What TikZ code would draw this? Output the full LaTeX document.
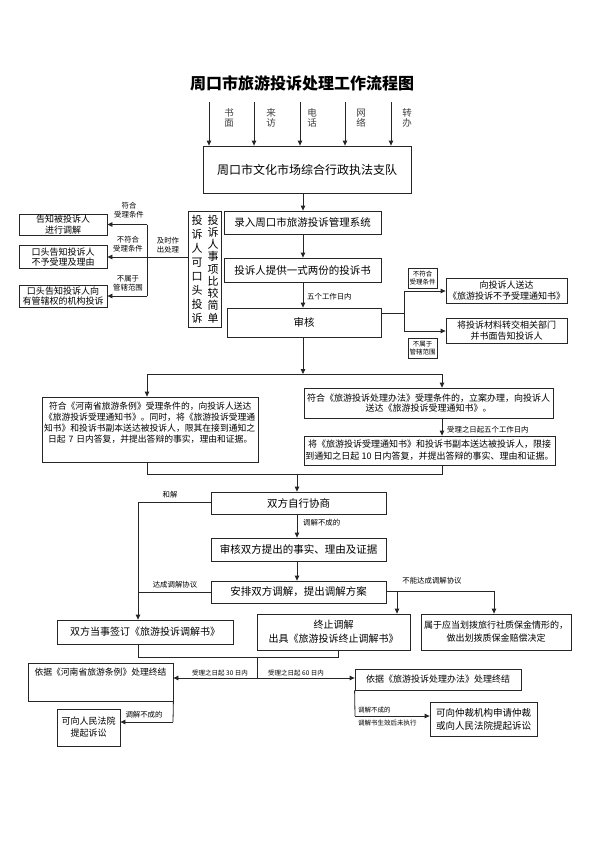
\documentclass[tikz,border=0pt]{standalone}
\usepackage{fontspec}
\setmainfont{Noto Sans CJK SC}
\usetikzlibrary{arrows.meta}
\tikzset{
  bx/.style={draw=black!85, line width=0.8pt, inner sep=0pt, align=center},
  ln/.style={draw=black!85, line width=0.8pt},
  arr/.style={ln, -{Triangle[length=5pt,width=4.5pt]}},
  lbl/.style={inner sep=0pt, font=\fontsize{7.4}{9}\selectfont, align=center},
  inlbl/.style={inner sep=0pt, font=\fontsize{9.5}{10.5}\selectfont, align=center, text=black!75},
  tx/.style={inner sep=0pt, align=left},
}
\begin{document}
\begin{tikzpicture}[x=1pt,y=-1pt]
\useasboundingbox[fill=white] (0,0) rectangle (600,848);

% title
\node[font=\fontsize{16}{18}\selectfont\bfseries] (title) at (302,83) {周口市旅游投诉处理工作流程图};

% top box
\node[bx, minimum width=208pt, minimum height=47pt, font=\fontsize{12}{14}\selectfont] (zd) at (307,169.5) {周口市文化市场综合行政执法支队};

% input arrows
\coordinate (s1) at (209,102);
\coordinate (s2) at (254,102);
\coordinate (s3) at (300,102);
\coordinate (s4) at (345,102);
\coordinate (s5) at (391,102);
\draw[arr] (s1) -- (s1 |- zd.north);
\draw[arr] (s2) -- (s2 |- zd.north);
\draw[arr] (s3) -- (s3 |- zd.north);
\draw[arr] (s4) -- (s4 |- zd.north);
\draw[arr] (s5) -- (s5 |- zd.north);
\node[inlbl] (t1) at (229,118) {书\\面};
\node[inlbl] (t2) at (271,118) {来\\访};
\node[inlbl] (t3) at (312,118) {电\\话};
\node[inlbl] (t4) at (361,118) {网\\络};
\node[inlbl] (t5) at (407,118) {转\\办};

% main column
\node[bx, minimum width=157pt, minimum height=23pt, font=\fontsize{10.5}{12}\selectfont] (lr) at (302.5,222.5) {录入周口市旅游投诉管理系统};
\node[bx, minimum width=157pt, minimum height=24pt, font=\fontsize{10.5}{12}\selectfont] (tg) at (302.5,270) {投诉人提供一式两份的投诉书};
\node[bx, minimum width=154pt, minimum height=29pt, font=\fontsize{10.5}{12}\selectfont] (sh) at (304,322.5) {审核};
\coordinate (mc) at (303,200);
\draw[arr] (mc |- zd.south) -- (mc |- lr.north);
\draw[arr] (mc |- lr.south) -- (mc |- tg.north);
\draw[arr] (mc |- tg.south) -- (mc |- sh.north);
\node[lbl, anchor=west] (wg) at (307,297) {五个工作日内};

% vertical box
\node[bx, minimum width=33pt, minimum height=116pt] (vb) at (204.5,269) {};
\node[inner sep=0pt, align=center, font=\fontsize{11}{12.25}\selectfont] (vbr) at (213,269) {投\\诉\\人\\事\\项\\比\\较\\简\\单};
\node[inner sep=0pt, align=center, font=\fontsize{11}{14}\selectfont] (vbl) at (197,269) {投\\诉\\人\\可\\口\\头\\投\\诉};

% left small boxes
\node[bx, minimum width=88pt, minimum height=21pt, font=\fontsize{9}{10.5}\selectfont] (la) at (63,224.5) {告知被投诉人\\进行调解};
\node[bx, minimum width=88pt, minimum height=23pt, font=\fontsize{9}{10.5}\selectfont] (lb) at (63,257) {口头告知投诉人\\不予受理及理由};
\node[bx, minimum width=88pt, minimum height=22pt, font=\fontsize{9}{10.5}\selectfont] (lc) at (63,296) {口头告知投诉人向\\有管辖权的机构投诉};
\coordinate (jx) at (147,257);
\draw[ln] (vb.west |- jx) -- (jx);
\draw[ln] (jx |- la.east) -- (jx |- lc.east);
\draw[arr] (jx |- la.east) -- (la.east);
\draw[arr] (jx) -- (lb.east);
\draw[arr] (jx |- lc.east) -- (lc.east);
\node[lbl] (q1) at (129,210.5) {符合\\受理条件};
\node[lbl] (q2) at (128,244.5) {不符合\\受理条件};
\node[lbl] (q3) at (128,283) {不属于\\管辖范围};
\node[lbl] (q4) at (168,245) {及时作\\出处理};

% right small boxes
\node[bx, minimum width=121pt, minimum height=25pt, font=\fontsize{9}{11}\selectfont] (rd) at (506.5,291) {向投诉人送达\\《旅游投诉不予受理通知书》};
\node[bx, minimum width=121pt, minimum height=25pt, font=\fontsize{9}{11}\selectfont] (re) at (506.5,331) {将投诉材料转交相关部门\\并书面告知投诉人};
\coordinate (jr) at (404,313);
\draw[ln] (sh.east |- jr) -- (jr);
\draw[ln] (jr |- rd.west) -- (jr |- re.west);
\draw[arr] (jr |- rd.west) -- (rd.west);
\draw[arr] (jr |- re.west) -- (re.west);
\node[bx, minimum width=29pt, minimum height=20pt, font=\fontsize{6.5}{8}\selectfont] (rq1) at (422.5,278) {不符合\\受理条件};
\node[bx, minimum width=29pt, minimum height=20pt, font=\fontsize{6.5}{8}\selectfont] (rq2) at (422.5,348) {不属于\\管辖范围};

% split
\coordinate (h1) at (303,374);
\coordinate (hl) at (147,374);
\coordinate (hr) at (442,374);
\draw[arr] (sh.south -| h1) -- (h1);
\draw[ln] (hl) -- (hr);

\node[bx, minimum width=216pt, minimum height=65pt] (bl) at (150,429.5) {};
\node[tx, anchor=north, text width=214pt, font=\fontsize{8.8}{11.2}\selectfont] (blt) at (151,401.5) {\hspace{5pt}符合《河南省旅游条例》受理条件的，向投诉人送达\\《旅游投诉受理通知书》。同时，将《旅游投诉受理通\\知书》和投诉书副本送达被投诉人，限其在接到通知之\\\hspace{4pt}日起 7 日内答复，并提出答辩的事实，理由和证据。};
\draw[arr] (hl) -- (hl |- bl.north);

\node[bx, minimum width=249pt, minimum height=30pt, font=\fontsize{9}{10.5}\selectfont] (br1) at (428.5,403) {符合《旅游投诉处理办法》受理条件的，立案办理，向投诉人\\送达《旅游投诉受理通知书》。};
\draw[arr] (hr) -- (hr |- br1.north);
\node[bx, minimum width=251pt, minimum height=29pt, font=\fontsize{9}{12}\selectfont] (br2) at (429.5,450.5) {将《旅游投诉受理通知书》和投诉书副本送达被投诉人，限接\\到通知之日起 10 日内答复，并提出答辩的事实、理由和证据。};
\draw[arr] (hr |- br1.south) -- (hr |- br2.north);
\node[lbl, anchor=west] (l5) at (447,430) {受理之日起五个工作日内};

% merge
\coordinate (bb) at (297,474);
\draw[ln] (hl |- bl.south) -- (hl |- bb) -- (hr |- bb) -- (hr |- br2.south);

\node[bx, minimum width=175pt, minimum height=22pt, font=\fontsize{10.5}{12}\selectfont] (xs) at (298.5,503) {双方自行协商};
\node[bx, minimum width=175pt, minimum height=23pt, font=\fontsize{10.5}{12}\selectfont] (sh2) at (298.5,549.5) {审核双方提出的事实、理由及证据};
\node[bx, minimum width=175pt, minimum height=22pt, font=\fontsize{10.5}{12}\selectfont] (ap) at (298.5,592) {安排双方调解，提出调解方案};
\draw[arr] (bb) -- (bb |- xs.north);
\draw[arr] (bb |- xs.south) -- (bb |- sh2.north);
\draw[arr] (bb |- sh2.south) -- (bb |- ap.north);
\node[lbl, anchor=west] (l6) at (303,523) {调解不成的};

% outcomes
\node[bx, minimum width=176pt, minimum height=24pt, font=\fontsize{10}{12}\selectfont] (qd) at (145,632) {双方当事签订《旅游投诉调解书》};
\node[bx, minimum width=153pt, minimum height=36pt, font=\fontsize{10}{14}\selectfont] (zz) at (333.5,632) {终止调解\\出具《旅游投诉终止调解书》};
\node[bx, minimum width=150pt, minimum height=36pt, font=\fontsize{9}{13}\selectfont] (sy) at (496,632) {属于应当划拨旅行社质保金情形的，\\做出划拨质保金赔偿决定};

\coordinate (lx) at (138,502);
\draw[ln] (xs.west |- lx) -- (lx);
\draw[arr] (lx) -- (lx |- qd.north);
\draw[ln] (ap.west) -- (ap.west -| lx);
\node[lbl] (l7) at (170,495) {和解};
\node[lbl] (l8) at (175,585) {达成调解协议};

\coordinate (rx) at (494,591);
\coordinate (mx) at (397,591);
\draw[ln] (ap.east |- rx) -- (rx);
\draw[arr] (mx) -- (mx |- zz.north);
\draw[arr] (rx) -- (rx |- sy.north);
\node[lbl] (l9) at (432,581) {不能达成调解协议};

% final
\node[bx, minimum width=145pt, minimum height=38pt] (yl) at (100.5,682) {};
\node[inner sep=0pt, anchor=north, font=\fontsize{8.8}{10}\selectfont] (ylt) at (100.5,668) {依据《河南省旅游条例》处理终结};
\node[bx, minimum width=166pt, minimum height=21pt, font=\fontsize{9}{11}\selectfont] (yr) at (438,679.5) {依据《旅游投诉处理办法》处理终结};

\coordinate (cl) at (138,657);
\coordinate (cr) at (338,657);
\coordinate (cb) at (257,657);
\coordinate (ca) at (257,678);
\draw[ln] (cl |- qd.south) -- (cl) -- (cr) -- (cr |- zz.south);
\draw[ln] (cb) -- (ca);
\draw[arr] (ca) -- (ca -| yl.east);
\draw[arr] (ca) -- (ca -| yr.west);
\node[inner sep=0pt, font=\fontsize{6.5}{8}\selectfont] (l10) at (220,673) {受理之日起 30 日内};
\node[inner sep=0pt, font=\fontsize{6.5}{8}\selectfont] (l11) at (296,673) {受理之日起 60 日内};

\node[bx, minimum width=63pt, minimum height=37pt, font=\fontsize{9}{12}\selectfont] (ct) at (88.5,727.5) {可向人民法院\\提起诉讼};
\coordinate (ll) at (173,722);
\draw[ln] (yl.south east) -- (ll);
\draw[arr] (ll) -- (ct.east |- ll);
\node[lbl] (l12) at (144,715) {调解不成的};

\node[bx, minimum width=107pt, minimum height=34pt, font=\fontsize{9.5}{13}\selectfont] (ab) at (483.5,719) {可向仲裁机构申请仲裁\\或向人民法院提起诉讼};
\coordinate (rl) at (355,716);
\draw[ln] (yr.south west) -- (rl);
\draw[arr] (rl) -- (ab.west |- rl);
\node[inner sep=0pt, anchor=west, font=\fontsize{6.5}{8}\selectfont] (l13) at (358,710) {调解不成的};
\node[inner sep=0pt, anchor=west, font=\fontsize{6.5}{8}\selectfont] (l14) at (358,723) {调解书生效后未执行};

\end{tikzpicture}
\end{document}
